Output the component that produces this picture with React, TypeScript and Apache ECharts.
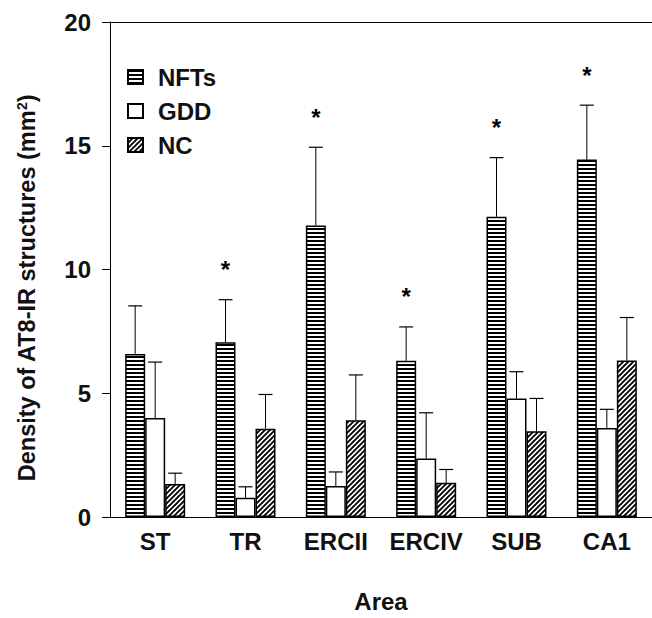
import React, { useEffect, useRef } from 'react';
import * as echarts from 'echarts';

const categories = ['ST', 'TR', 'ERCII', 'ERCIV', 'SUB', 'CA1'];
const seriesNames = ['NFTs', 'GDD', 'NC'];
const nftMean = [6.59, 7.06, 11.78, 6.31, 12.13, 14.44];
const nftUpper = [8.53, 8.78, 14.94, 7.68, 14.52, 16.64];
const gddMean = [4.0, 0.78, 1.25, 2.36, 4.79, 3.6];
const gddUpper = [6.26, 1.22, 1.82, 4.21, 5.87, 4.35];
const ncMean = [1.33, 3.57, 3.91, 1.38, 3.46, 6.32];
const ncUpper = [1.77, 4.95, 5.74, 1.92, 4.79, 8.06];
const nftSignificant = [false, true, true, true, true, true];
const yTicks = [0, 5, 10, 15, 20];

const FONT = '"Liberation Sans", Arial, Helvetica, sans-serif';

function makePattern(kind: 'h' | 'd') {
  const c = document.createElement('canvas');
  const s = kind === 'h' ? 4 : 5;
  c.width = s;
  c.height = s;
  const ctx = c.getContext('2d')!;
  ctx.fillStyle = '#fff';
  ctx.fillRect(0, 0, s, s);
  if (kind === 'h') {
    ctx.fillStyle = '#000';
    ctx.fillRect(0, 0, s, 2);
  } else {
    ctx.strokeStyle = '#000';
    ctx.lineWidth = 1.9;
    ctx.beginPath();
    ctx.moveTo(-1, s + 1);
    ctx.lineTo(s + 1, -1);
    ctx.moveTo(-s / 2 - 1, s / 2 + 1);
    ctx.lineTo(s / 2 + 1, -s / 2 - 1);
    ctx.moveTo(s / 2 - 1, s + s / 2 + 1);
    ctx.lineTo(s + s / 2 + 1, s / 2 - 1);
    ctx.stroke();
  }
  return { image: c.toDataURL(), repeat: 'repeat', imageWidth: s, imageHeight: s } as any;
}

export default function App() {
  const ref = useRef<HTMLDivElement>(null);
  useEffect(() => {
    if (!ref.current) return;
    const chart = echarts.init(ref.current, undefined, { renderer: 'svg' });
    const BW = 20;
    const fills = [makePattern('h'), '#fff', makePattern('d')];
    const means = [nftMean, gddMean, ncMean];
    const uppers = [nftUpper, gddUpper, ncUpper];

    const barSeries = seriesNames.map((name, si) => ({
      name,
      type: 'bar',
      barWidth: BW,
      barGap: '0%',
      data: means[si],
      itemStyle: { color: fills[si], borderColor: '#000', borderWidth: 1.5 },
      z: 2,
    }));

    const errSeries = seriesNames.map((name, si) => ({
      name: 'err-' + name,
      type: 'custom',
      z: 3,
      encode: { x: 0, y: 2 },
      data: categories.map((_, ci) => [ci, means[si][ci], uppers[si][ci], si === 0 && nftSignificant[ci] ? 1 : 0]),
      renderItem: (params: any, api: any) => {
        const ci = api.value(0);
        const base = api.coord([ci, api.value(1)]);
        const top = api.coord([ci, api.value(2)]);
        const x = base[0] + (si - 1) * BW;
        const children: any[] = [
          { type: 'line', shape: { x1: x, y1: base[1], x2: x, y2: top[1] }, style: { stroke: '#000', lineWidth: 1 } },
          { type: 'line', shape: { x1: x - 7, y1: top[1], x2: x + 7, y2: top[1] }, style: { stroke: '#000', lineWidth: 1.2 } },
        ];
        if (api.value(3) === 1) {
          children.push({
            type: 'text',
            x,
            y: top[1] - 30,
            style: { text: '*', fontSize: 24, fontWeight: 'bold', fontFamily: FONT, fill: '#000', align: 'center', verticalAlign: 'middle' },
          });
        }
        return { type: 'group', children };
      },
    }));

    const labelStyle = { fontFamily: FONT, fontWeight: 'bold', fontSize: 24, color: '#111' };

    chart.setOption({
      animation: false,
      backgroundColor: '#fff',
      grid: { left: 110, right: -3, top: 22, bottom: 93 },
      legend: {
        data: seriesNames,
        orient: 'vertical',
        left: 127,
        top: 65,
        itemWidth: 15,
        itemHeight: 14,
        itemGap: 10,
        padding: 0,
        icon: 'rect',
        selectedMode: false,
        textStyle: { ...labelStyle, padding: [0, 0, 0, 10] },
      },
      xAxis: [
        {
          type: 'category',
          data: categories,
          axisTick: { show: false },
          axisLine: { lineStyle: { color: '#000', width: 1 } },
          axisLabel: { ...labelStyle, margin: 12, interval: 0 },
          name: 'Area',
          nameLocation: 'middle',
          nameGap: 72,
          nameTextStyle: labelStyle,
        },
        {
          type: 'category',
          data: categories,
          position: 'top',
          axisTick: { show: false },
          axisLabel: { show: false },
          axisLine: { show: true, lineStyle: { color: '#000', width: 1 } },
        },
      ],
      yAxis: {
        type: 'value',
        min: yTicks[0],
        max: yTicks[yTicks.length - 1],
        interval: yTicks[1] - yTicks[0],
        splitLine: { show: false },
        axisLine: { show: true, lineStyle: { color: '#000', width: 1 } },
        axisTick: { show: true, length: 8, lineStyle: { color: '#000' } },
        axisLabel: { ...labelStyle, margin: 19 },
      },
      graphic: [
        {
          type: 'text',
          x: 27,
          y: 288,
          rotation: Math.PI / 2,
          style: {
            text: 'Density of AT8-IR structures (mm{sup|2})',
            fontFamily: FONT,
            fontWeight: 'bold',
            fontSize: 23.5,
            fill: '#111',
            align: 'center',
            verticalAlign: 'middle',
            rich: { sup: { fontFamily: FONT, fontWeight: 'bold', fontSize: 14, verticalAlign: 'top', fill: '#111' } },
          },
        },
      ],
      series: [...barSeries, ...errSeries],
    } as any);
    return () => chart.dispose();
  }, []);
  return <div ref={ref} style={{ position: 'absolute', left: 0, top: 0, width: 652, height: 618, background: '#fff' }} />;
}
